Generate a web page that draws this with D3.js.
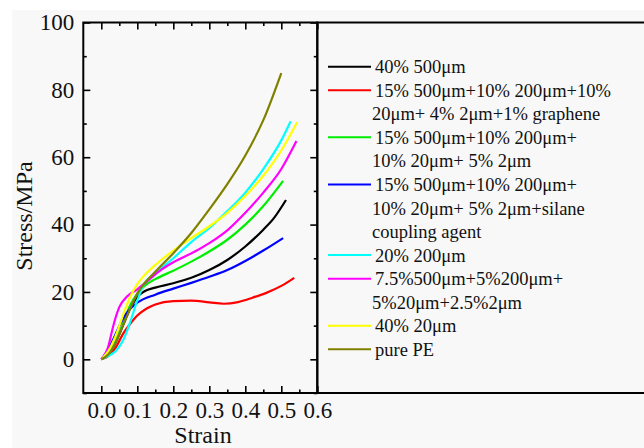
<html lang="en">
<head>
<meta charset="UTF-8">
<title>Stress-Strain</title>
<script src="https://d3js.org/d3.v7.min.js"></script>
<style>
    body { margin: 0; background: #ffffff; }
    svg { display: block; font-family: 'Liberation Serif', 'Times New Roman', serif; }
    .tick text { font-size: 23px; fill: #111; font-family: 'Liberation Serif', 'Times New Roman', serif; }
    .tick line { stroke: #000; stroke-width: 1.6px; }
</style>
</head>
<body>
<svg id="chart" width="644" height="448"></svg>
<script>
    // strain / stress points
    const s40_500 = [[0,0],[0.02,1.5],[0.04,5],[0.06,10],[0.08,15],[0.1,18.5],[0.12,20.2],[0.15,21.3],[0.2,22.6],[0.25,24.2],[0.3,26.5],[0.35,29.5],[0.4,33.5],[0.45,38.5],[0.48,42],[0.513,47.3]];
    const sGraphene = [[0,0],[0.02,1],[0.04,3.5],[0.06,7.5],[0.08,10.5],[0.1,13],[0.125,15],[0.15,16.3],[0.2,17.3],[0.25,17.4],[0.3,16.9],[0.34,16.5],[0.38,17],[0.42,18.3],[0.46,19.8],[0.5,21.8],[0.536,24.2]];
    const sMix = [[0,0],[0.02,1.5],[0.04,5.5],[0.06,10.5],[0.08,16],[0.1,19.5],[0.12,21.8],[0.15,23.8],[0.2,26.3],[0.25,29],[0.3,32],[0.35,35.5],[0.4,40],[0.45,45.5],[0.505,53]];
    const sSilane = [[0,0],[0.02,3],[0.04,7.5],[0.06,12],[0.08,15],[0.1,16.8],[0.15,19.2],[0.2,21],[0.25,22.7],[0.3,24.5],[0.35,26.5],[0.4,29.2],[0.45,32.3],[0.505,36]];
    const s20_200 = [[0,0],[0.02,1],[0.04,2.5],[0.06,5.5],[0.08,11],[0.1,17.5],[0.12,22.5],[0.15,25.5],[0.2,30],[0.25,34.8],[0.3,39],[0.35,44],[0.4,49.5],[0.45,56.5],[0.5,65],[0.526,70.7]];
    const sHalfMix = [[0,0],[0.02,4],[0.03,8.5],[0.04,12.5],[0.05,15.5],[0.07,18.5],[0.1,20.8],[0.12,22.5],[0.167,26.6],[0.2,28.8],[0.26,32],[0.3,34.5],[0.35,38.3],[0.4,43.5],[0.45,49.5],[0.5,56.5],[0.542,64.8]];
    const s40_20 = [[0,0],[0.02,2.5],[0.04,7],[0.06,13],[0.08,18.5],[0.1,22.3],[0.12,25],[0.15,28],[0.2,32.3],[0.25,36],[0.3,39.5],[0.35,43.5],[0.4,48.5],[0.45,54.5],[0.5,62],[0.544,70.4]];
    const sPurePE = [[0,0],[0.02,1.5],[0.04,5],[0.06,10],[0.08,15],[0.1,19.5],[0.12,22.6],[0.15,26],[0.2,31.5],[0.25,37.5],[0.3,44.5],[0.35,52],[0.4,60.5],[0.45,71],[0.5,85]];

    const seriesData = [s40_500, sGraphene, sMix, sSilane, s20_200, sHalfMix, s40_20, sPurePE];
    const seriesColors = ['#000000', '#ff0000', '#00ee00', '#0000ff', '#00ffff', '#ff00ff', '#ffff00', '#808000'];
    const legendLabels = [
        ['40% 500\u03bcm'],
        ['15% 500\u03bcm+10% 200\u03bcm+10%', '20\u03bcm+ 4% 2\u03bcm+1% graphene'],
        ['15% 500\u03bcm+10% 200\u03bcm+', '10% 20\u03bcm+ 5% 2\u03bcm'],
        ['15% 500\u03bcm+10% 200\u03bcm+', '10% 20\u03bcm+ 5% 2\u03bcm+silane', 'coupling agent'],
        ['20% 200\u03bcm'],
        ['7.5%500\u03bcm+5%200\u03bcm+', '5%20\u03bcm+2.5%2\u03bcm'],
        ['40% 20\u03bcm'],
        ['pure PE']
    ];
    const xMajor = [0, 0.1, 0.2, 0.3, 0.4, 0.5, 0.6];
    const xMinor = [0.05, 0.15, 0.25, 0.35, 0.45, 0.55];
    const yMajor = [0, 20, 40, 60, 80, 100];
    const yMinor = [-10, 10, 30, 50, 70, 90];

    const plotLeft = 83.3, plotRight = 317.3, plotTop = 22.5, plotBottom = 393;
    const serif = "'Liberation Serif', 'Times New Roman', serif";

    const svg = d3.select('#chart');

    svg.append('rect')
        .attr('x', 12).attr('y', 10)
        .attr('width', 632).attr('height', 438)
        .attr('fill', '#f8f8f8');

    const x = d3.scaleLinear().domain([-0.05, 0.6]).range([plotLeft, plotRight]);
    const y = d3.scaleLinear().domain([-10, 100]).range([plotBottom, plotTop]);

    // inward ticks on all four sides
    const fmtX = d3.format('.1f');
    function addAxis(axis, tx, ty) {
        const g = svg.append('g').attr('transform', `translate(${tx},${ty})`).call(axis);
        g.attr('font-family', serif).attr('font-size', 23);
        g.select('.domain').remove();
        return g;
    }
    addAxis(d3.axisBottom(x).tickValues(xMajor).tickSize(-7).tickPadding(9).tickFormat(fmtX), 0, plotBottom);
    addAxis(d3.axisBottom(x).tickValues(xMinor).tickSize(-3.5).tickFormat(''), 0, plotBottom);
    addAxis(d3.axisTop(x).tickValues(xMajor).tickSize(-7).tickFormat(''), 0, plotTop);
    addAxis(d3.axisTop(x).tickValues(xMinor).tickSize(-3.5).tickFormat(''), 0, plotTop);
    addAxis(d3.axisLeft(y).tickValues(yMajor).tickSize(-7).tickPadding(9), plotLeft, 0);
    addAxis(d3.axisLeft(y).tickValues(yMinor).tickSize(-3.5).tickFormat(''), plotLeft, 0);
    addAxis(d3.axisRight(y).tickValues(yMajor).tickSize(-7).tickFormat(''), plotRight, 0);
    addAxis(d3.axisRight(y).tickValues(yMinor).tickSize(-3.5).tickFormat(''), plotRight, 0);

    const line = d3.line()
        .x(d => x(d[0]))
        .y(d => y(d[1]))
        .curve(d3.curveMonotoneX);

    svg.append('g')
        .selectAll('path')
        .data(seriesData)
        .join('path')
        .attr('d', line)
        .attr('fill', 'none')
        .attr('stroke', (d, i) => seriesColors[i])
        .attr('stroke-width', 2.2);

    // frame + legend box
    svg.append('rect')
        .attr('x', plotLeft).attr('y', plotTop)
        .attr('width', plotRight - plotLeft).attr('height', plotBottom - plotTop)
        .attr('fill', 'none').attr('stroke', '#000').attr('stroke-width', 2);
    svg.append('rect')
        .attr('x', plotRight).attr('y', plotTop)
        .attr('width', 340).attr('height', plotBottom - plotTop)
        .attr('fill', 'none').attr('stroke', '#000').attr('stroke-width', 2);

    // axis titles
    svg.append('text')
        .attr('x', 203).attr('y', 443)
        .attr('text-anchor', 'middle')
        .attr('font-size', 24).attr('fill', '#111')
        .text('Strain');
    svg.append('text')
        .attr('transform', 'translate(32,216) rotate(-90)')
        .attr('text-anchor', 'middle')
        .attr('font-size', 24).attr('fill', '#111')
        .text('Stress/MPa');

    // legend
    const rowStep = 23.55;
    const legend = svg.append('g');
    let row = 0;
    legendLabels.forEach((lines, i) => {
        const yy = 66.7 + row * rowStep;
        legend.append('line')
            .attr('x1', 328).attr('x2', 371)
            .attr('y1', yy).attr('y2', yy)
            .attr('stroke', seriesColors[i]).attr('stroke-width', 2);
        lines.forEach((t, j) => {
            legend.append('text')
                .attr('x', j === 0 ? 375 : 372)
                .attr('y', yy + j * rowStep + 6.5)
                .attr('font-size', 18.5).attr('fill', '#111')
                .text(t);
        });
        row += lines.length;
    });
</script>
</body>
</html>
